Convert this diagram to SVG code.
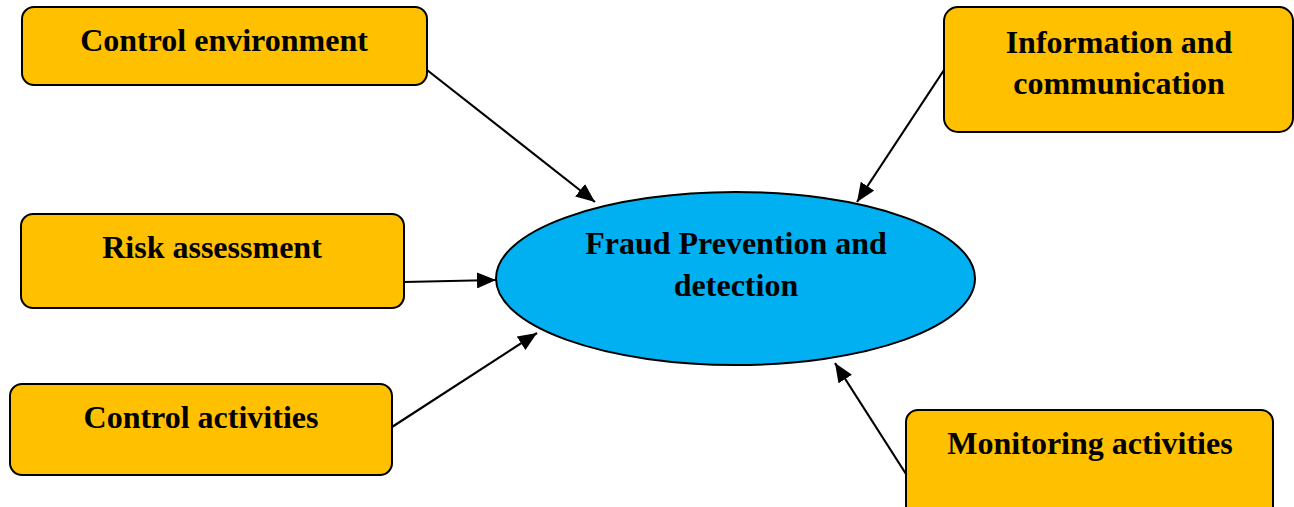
<svg xmlns="http://www.w3.org/2000/svg" width="1294" height="507" viewBox="0 0 1294 507">
<style>
.box{fill:#FFC000;stroke:#000;stroke-width:2}
.ell{fill:#00B0F0;stroke:#000;stroke-width:2}
.t{font-family:"Liberation Serif","Times New Roman",serif;font-weight:bold;font-size:32px;fill:#000;text-anchor:middle}
.c{stroke:#000;stroke-width:2.2;fill:none;marker-end:url(#ah)}
</style>
<defs>
<marker id="ah" markerUnits="userSpaceOnUse" markerWidth="20" markerHeight="16" refX="19" refY="8" orient="auto">
<path d="M0,0 L19,8 L0,16 Z" fill="#000"/>
</marker>
</defs>
<rect width="1294" height="507" fill="#fff"/>
<g id="connectors">
<line class="c" x1="427" y1="70" x2="595" y2="202"/>
<line class="c" x1="944" y1="70" x2="857" y2="202"/>
<line class="c" x1="404" y1="282" x2="496" y2="280"/>
<line class="c" x1="392" y1="427" x2="537" y2="333"/>
<line class="c" x1="906" y1="474" x2="835" y2="363"/>
</g>
<g id="center">
<ellipse class="ell" cx="735.5" cy="278.5" rx="239.5" ry="86.5"/>
<text class="t" x="736" y="254">Fraud Prevention and</text>
<text class="t" x="736" y="296">detection</text>
</g>
<g id="control-environment">
<rect class="box" x="22" y="7" width="405" height="78" rx="12"/>
<text class="t" x="224" y="51">Control environment</text>
</g>
<g id="information-communication">
<rect class="box" x="944" y="7" width="349" height="125" rx="14"/>
<text class="t" x="1119" y="53">Information and</text>
<text class="t" x="1119" y="94">communication</text>
</g>
<g id="risk-assessment">
<rect class="box" x="21" y="214" width="383" height="94" rx="12"/>
<text class="t" x="212" y="258">Risk assessment</text>
</g>
<g id="control-activities">
<rect class="box" x="10" y="384" width="382" height="91" rx="12"/>
<text class="t" x="201" y="428">Control activities</text>
</g>
<g id="monitoring-activities">
<rect class="box" x="906" y="410" width="367" height="110" rx="12"/>
<text class="t" x="1090" y="454">Monitoring activities</text>
</g>
</svg>
